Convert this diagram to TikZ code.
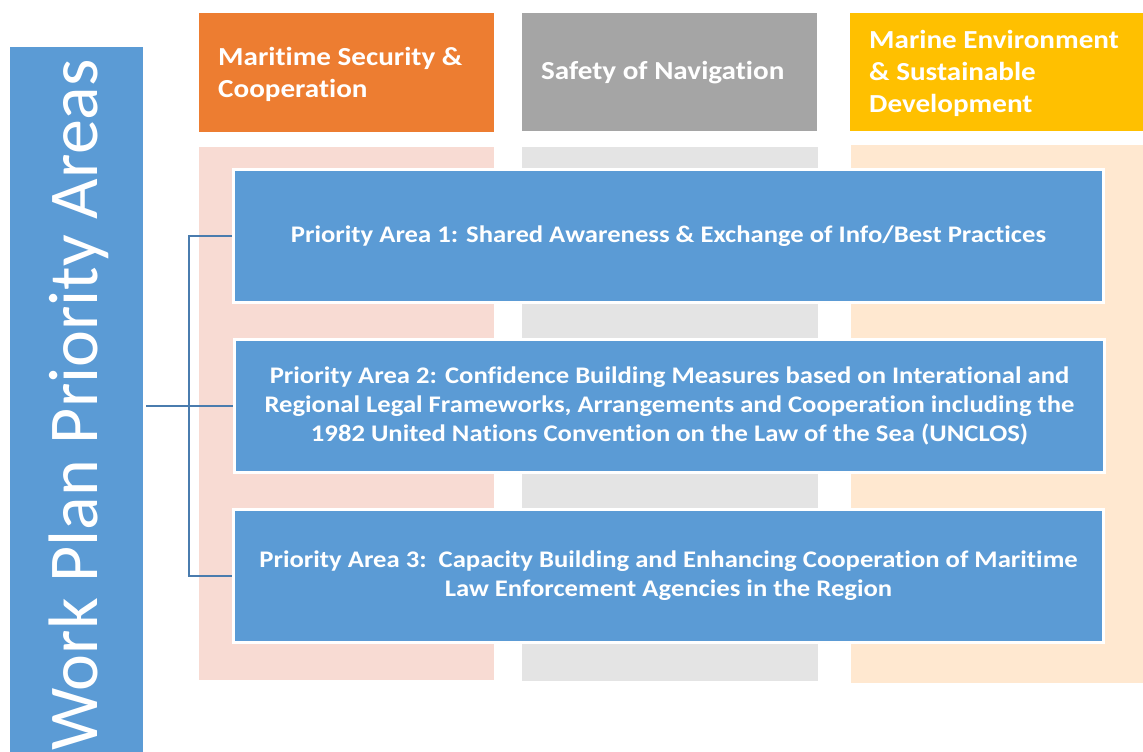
\documentclass[tikz,border=0pt]{standalone}
\usepackage{fontspec}
\setmainfont{Carlito}[Ligatures=NoCommon]
\newfontfamily\widefont{Carlito}[Ligatures=NoCommon, FakeStretch=1.12]
\usepackage{xcolor}
\usepackage{tikz}
\definecolor{hdorange}{HTML}{ED7D31}
\definecolor{hdgray}{HTML}{A5A5A5}
\definecolor{hdyellow}{HTML}{FFC000}
\definecolor{colpink}{HTML}{F8DBD3}
\definecolor{colgray}{HTML}{E4E4E4}
\definecolor{colpeach}{HTML}{FFE8D0}
\definecolor{areablue}{HTML}{5B9BD5}
\definecolor{linkblue}{HTML}{4A7CAE}
\tikzstyle{head} = [anchor=west, align=left, text=white, inner sep=0pt, font=\widefont\bfseries\fontsize{26}{32}\selectfont]
\tikzstyle{area} = [draw=white, line width=3pt, fill=areablue, text=white, align=center, inner sep=0pt, minimum width=870pt, minimum height=133pt, font=\widefont\bfseries\fontsize{23.8}{29}\selectfont]
\tikzstyle{link} = [draw=linkblue, line width=2pt]

\begin{document}
\begin{tikzpicture}[yscale=-1]
			\clip (0pt,0pt) rectangle (1143pt,752pt);
			\fill[white] (0pt,0pt) rectangle (1143pt,752pt);
			% columns
			\fill[colpink] (199pt,147pt) rectangle (494pt,680pt);
			\fill[colgray] (522pt,147pt) rectangle (818pt,681pt);
			\fill[colpeach] (851pt,145pt) rectangle (1143pt,683pt);
			% headers
			\fill[hdorange] (199pt,13pt) rectangle (494pt,132pt);
			\node[head] (msc) at (218pt,74pt) {Maritime Security \&\\Cooperation};
			\fill[hdgray] (522pt,13pt) rectangle (817pt,131pt);
			\node[head] (son) at (541pt,73pt) {Safety of Navigation};
			\fill[hdyellow] (850pt,13pt) rectangle (1143pt,131pt);
			\node[head] (mesd) at (869pt,73pt) {Marine Environment\\\& Sustainable\\Development};
			% side bar
			\node[fill=areablue, anchor=north west, inner sep=0pt, minimum width=133pt, minimum height=740pt] (wpbar) at (10pt,47pt) {};
			\node[rotate=90, anchor=base, text=white, inner sep=0pt, font=\fontsize{70}{80}\selectfont] (wptext) at (97pt,405pt) {Work Plan Priority Areas};
			% priority areas
			\node[area] (pa1) at (668.5pt,236pt) {Priority Area 1: Shared Awareness \& Exchange of Info/Best Practices};
			\node[area] (pa2) at (669.5pt,405.5pt) {Priority Area 2: Confidence Building Measures based on Interational and\\Regional Legal Frameworks, Arrangements and Cooperation including the\\1982 United Nations Convention on the Law of the Sea (UNCLOS)};
			\node[area] (pa3) at (668.5pt,575.5pt) {Priority Area 3:\ \ Capacity Building and Enhancing Cooperation of Maritime\\Law Enforcement Agencies in the Region};
			% bracket
			\coordinate (jn) at (189pt,405.5pt);
			\draw[link] (pa1.west) -| (jn) |- (pa3.west);
			\draw[link] ([xshift=3pt]wpbar.east |- pa2.west) -- (pa2.west);
		\end{tikzpicture}
\end{document}
